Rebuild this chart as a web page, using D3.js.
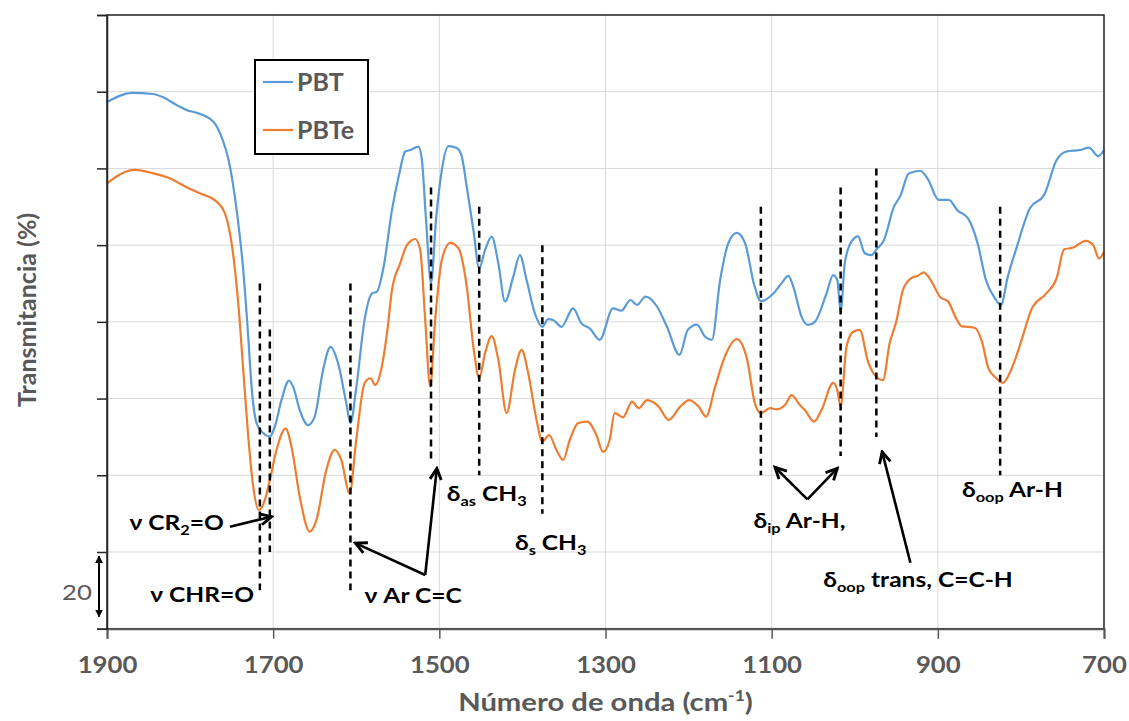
<!DOCTYPE html>
<html>
<head>
<meta charset="utf-8">
<script src="https://cdn.jsdelivr.net/npm/d3@7"></script>
<style>
  body { margin: 0; background: #fff; }
  text { font-family: Lato, "Open Sans", "DejaVu Sans", sans-serif; }
</style>
</head>
<body>
<svg id="chart" width="1129" height="721"></svg>
<script>
// --- data ---
const xTicks = [1900, 1700, 1500, 1300, 1100, 900, 700];
const yTicks = [0, 20, 40, 60, 80, 100, 120, 140, 160];

const seriesNames = ['PBT', 'PBTe'];

const wnPBT = [1900,1870,1845,1833,1816,1804,1792,1772,1764,1752,
  1744,1736,1730,1726,1720,1712,1704,1698,1690,1681,
  1676,1668,1658,1650,1640,1631,1622,1612,1607,1600,
  1590,1581,1575,1567,1557,1549,1541,1535,1525,1521,
  1516,1510,1504,1497,1489,1479,1473,1467,1459,1452,
  1445,1437,1429,1421,1411,1403,1395,1385,1376,1369,
  1363,1353,1339,1329,1319,1307,1291,1281,1270,1262,
  1252,1238,1226,1211,1201,1190,1180,1172,1162,1152,
  1142,1132,1121,1113,1098,1088,1080,1074,1064,1056,
  1048,1034,1026,1021,1017,1012,1004,996,988,980,
  973,965,953,945,935,921,912,899,887,876,
  864,852,842,832,824,816,805,789,772,757,
  745,729,718,707,700];
const tPBT = [137.3,139.7,139.4,138.6,136.5,135.2,134.5,132.2,129.2,120.5,
  109.2,93.5,76.1,63.1,53.6,51.0,50.1,52.7,59.6,64.7,
  63.1,57.0,53.1,55.3,67.4,73.5,69.3,58.8,53.6,62.8,
  80.5,87.4,87.9,94.4,109.2,117.8,124.4,124.8,125.7,122.2,
  106.6,90.1,106.6,119.6,125.8,125.3,123.1,115.2,103.9,94.0,
  98.7,102.2,95.3,85.3,91.8,97.4,90.9,82.2,78.7,80.7,
  80.5,78.7,83.5,79.6,78.3,75.3,83.5,82.9,85.7,84.4,
  86.6,84.0,78.7,71.4,77.9,79.3,76.1,75.3,90.9,100.6,
  103.2,100.5,89.6,85.4,87.4,90.1,92.0,89.2,81.3,79.2,
  80.0,87.4,92.2,90.9,82.6,95.3,100.9,102.3,97.9,97.4,
  99.1,101.2,109.9,112.9,118.7,119.4,117.2,111.8,111.8,109.0,
  107.1,100.4,90.8,86.4,84.4,91.6,99.5,109.7,113.1,122.2,
  124.4,124.8,125.4,123.2,124.8];

const wnPBTe = [1900,1884,1866,1844,1824,1804,1788,1768,1758,1750,
  1742,1736,1730,1724,1717,1710,1704,1696,1685,1678,
  1668,1656,1648,1636,1626,1618,1608,1600,1590,1583,
  1577,1571,1563,1557,1547,1539,1529,1523,1517,1511,
  1505,1497,1487,1477,1467,1459,1452,1445,1437,1429,
  1419,1409,1401,1393,1383,1376,1368,1359,1351,1343,
  1333,1322,1311,1303,1295,1289,1279,1268,1260,1250,
  1236,1224,1210,1199,1188,1179,1168,1157,1142,1130,
  1120,1113,1102,1094,1084,1076,1066,1060,1049,1040,
  1026,1021,1017,1010,1002,994,984,976,966,958,
  950,942,932,924,917,908,897,888,877,871,
  864,855,847,839,831,822,813,805,798,787,
  770,757,748,738,722,713,706,700];
const tPBTe = [116.1,118.5,119.6,118.7,117.4,115.1,113.5,111.3,108.3,100.5,
  84.8,67.4,50.1,37.0,30.9,33.6,38.8,46.6,52.2,47.5,
  34.4,25.3,28.3,41.4,46.6,44.0,35.3,49.2,64.0,65.3,
  63.5,66.6,77.0,88.3,95.3,100.0,101.6,98.7,80.5,63.1,
  80.5,96.1,100.6,99.2,89.2,73.5,65.3,71.8,76.3,70.1,
  56.2,67.4,72.7,66.6,54.4,48.8,50.5,46.6,44.0,49.2,
  53.6,54.0,50.5,46.1,49.2,56.2,55.1,59.2,57.5,59.6,
  57.9,54.4,57.9,59.6,57.9,55.3,63.1,70.6,75.5,70.6,
  58.6,56.2,57.5,57.2,58.3,60.9,58.3,57.0,54.0,57.0,
  64.1,62.2,57.9,73.4,77.4,77.9,69.6,66.1,64.8,74.4,
  80.1,88.3,91.4,92.0,92.9,90.7,86.4,85.4,80.5,78.8,
  78.7,78.4,74.9,67.8,65.6,64.1,66.9,71.4,76.1,83.4,
  87.3,91.4,98.9,99.3,101.1,100.0,96.5,98.2];

// dashed band markers: wavenumber, top and bottom (in %T units)
const dashWn     = [1716, 1704, 1607, 1510, 1452, 1376, 1113, 1017, 974, 825];
const dashTop    = [90, 78, 90, 115, 110, 100, 110, 115, 120, 110];
const dashBottom = [10, 20, 10, 44, 40, 30, 40, 45, 50, 40];

// annotation labels: [wn, %T baseline, parts] ; parts with s:true are subscripts
const labels = [
  [1873, 25.7, [{t: 'ν CR'}, {t: '2', s: true}, {t: '=O'}]],
  [1848, 7.0,  [{t: 'ν CHR=O'}]],
  [1590, 6.6,  [{t: 'ν Ar C=C'}]],
  [1491, 33.4, [{t: 'δ'}, {t: 'as', s: true}, {t: ' CH'}, {t: '3', s: true}]],
  [1409, 20.5, [{t: 'δ'}, {t: 's', s: true}, {t: ' CH'}, {t: '3', s: true}]],
  [1122, 26.3, [{t: 'δ'}, {t: 'ip', s: true}, {t: ' Ar-H,'}]],
  [871, 34.4,  [{t: 'δ'}, {t: 'oop', s: true}, {t: ' Ar-H'}]],
  [1038, 10.9, [{t: 'δ'}, {t: 'oop', s: true}, {t: ' trans, C=C-H'}]],
];

// arrows: [wn1, T1, wn2, T2] (head at point 2)
const arrows = [
  [1752, 26.6, 1702, 29.2],
  [1517, 14.0, 1601, 22.3],
  [1517, 14.0, 1503, 41.8],
  [1057, 33.7, 1096, 42.1],
  [1057, 33.7, 1021, 41.8],
  [933, 17.2, 967, 46.1],
];

// --- layout ---
const svg = d3.select('#chart');
const M = { left: 107, right: 1104, top: 15, bottom: 628.7 };
const COLORS = ['#5b9bd5', '#ed7d31'];
const GRAY = '#595959';
const WIDE = 'scale(1.17,1)';   // the source picture is stretched sideways

const x = d3.scaleLinear().domain([1900, 700]).range([M.left, M.right]);
const y = d3.scaleLinear().domain([0, 160]).range([M.bottom, M.top]);

// grid
svg.append('g').selectAll('line').data(xTicks).enter().append('line')
  .attr('x1', d => x(d)).attr('x2', d => x(d))
  .attr('y1', M.top).attr('y2', M.bottom)
  .attr('stroke', '#d9d9d9').attr('stroke-width', 1);
svg.append('g').selectAll('line').data(yTicks).enter().append('line')
  .attr('x1', M.left).attr('x2', M.right)
  .attr('y1', d => y(d)).attr('y2', d => y(d))
  .attr('stroke', '#d9d9d9').attr('stroke-width', 1);

// series
const line = d3.line().x(d => x(d[0])).y(d => y(d[1])).curve(d3.curveMonotoneX);
const series = [d3.zip(wnPBT, tPBT), d3.zip(wnPBTe, tPBTe)];
svg.append('g').selectAll('path').data(series).enter().append('path')
  .attr('d', line)
  .attr('fill', 'none')
  .attr('stroke', (d, i) => COLORS[i])
  .attr('stroke-width', 2.2)
  .attr('stroke-linejoin', 'round');

// dashed lines
svg.append('g').selectAll('line').data(dashWn).enter().append('line')
  .attr('x1', d => x(d)).attr('x2', d => x(d))
  .attr('y1', (d, i) => y(dashTop[i])).attr('y2', (d, i) => y(dashBottom[i]))
  .attr('stroke', '#000').attr('stroke-width', 2.5)
  .attr('stroke-dasharray', '7,5');

// arrow markers
const defs = svg.append('defs');
defs.append('marker')
  .attr('id', 'head').attr('viewBox', '0 0 10 10')
  .attr('refX', 8.5).attr('refY', 5)
  .attr('markerWidth', 16).attr('markerHeight', 16)
  .attr('markerUnits', 'userSpaceOnUse')
  .attr('orient', 'auto-start-reverse')
  .append('path').attr('d', 'M1.5,1.5 L8.5,5 L1.5,8.5')
  .attr('fill', 'none').attr('stroke', '#000').attr('stroke-width', 1.8);
defs.append('marker')
  .attr('id', 'tri').attr('viewBox', '0 0 10 10')
  .attr('refX', 9).attr('refY', 5)
  .attr('markerWidth', 8).attr('markerHeight', 8)
  .attr('markerUnits', 'userSpaceOnUse')
  .attr('orient', 'auto-start-reverse')
  .append('path').attr('d', 'M0,0 L10,5 L0,10 Z').attr('fill', '#000');

svg.append('g').selectAll('line').data(arrows).enter().append('line')
  .attr('x1', d => x(d[0])).attr('y1', d => y(d[1]))
  .attr('x2', d => x(d[2])).attr('y2', d => y(d[3]))
  .attr('stroke', '#000').attr('stroke-width', 2.6)
  .attr('marker-end', 'url(#head)');

// labels
const lab = svg.append('g').selectAll('text').data(labels).enter().append('text')
  .attr('transform', d => `translate(${x(d[0])},${y(d[1])}) ${WIDE}`)
  .attr('font-size', 21).attr('font-weight', 'bold').attr('fill', '#000');
lab.each(function (d) {
  const t = d3.select(this);
  let shifted = false;
  d[2].forEach(p => {
    const sp = t.append('tspan').text(p.t);
    if (p.s) { sp.attr('font-size', 14).attr('dy', 5); shifted = true; }
    else if (shifted) { sp.attr('dy', -5); shifted = false; }
  });
});

// frame + axes
svg.append('rect')
  .attr('x', M.left).attr('y', M.top)
  .attr('width', M.right - M.left).attr('height', M.bottom - M.top)
  .attr('fill', 'none').attr('stroke', '#262626').attr('stroke-width', 1.5);

const xAxis = svg.append('g').attr('transform', `translate(0,${M.bottom})`)
  .call(d3.axisBottom(x).tickValues(xTicks).tickSize(10).tickPadding(19).tickFormat(d3.format('d')));
xAxis.select('.domain').attr('stroke', GRAY).attr('stroke-width', 2);
xAxis.selectAll('.tick line').attr('stroke', GRAY).attr('stroke-width', 1.5);
xAxis.selectAll('text').attr('font-size', 22).attr('font-weight', 'bold')
  .attr('fill', GRAY).attr('font-family', 'Lato, "Open Sans", sans-serif')
  .attr('transform', WIDE);

const yAxis = svg.append('g').attr('transform', `translate(${M.left},0)`)
  .call(d3.axisLeft(y).tickValues(yTicks).tickSize(10).tickFormat(''));
yAxis.select('.domain').attr('stroke', '#262626').attr('stroke-width', 1.5);
yAxis.selectAll('.tick line').attr('stroke', '#262626').attr('stroke-width', 1.5);

// scale bar "20"
svg.append('line')
  .attr('x1', M.left - 8).attr('x2', M.left - 8)
  .attr('y1', y(yTicks[1]) + 4).attr('y2', y(yTicks[0]) - 12)
  .attr('stroke', '#000').attr('stroke-width', 2)
  .attr('marker-start', 'url(#tri)').attr('marker-end', 'url(#tri)');
svg.append('text')
  .attr('transform', `translate(${M.left - 30},${(y(yTicks[0]) + y(yTicks[1])) / 2 + 4}) ${WIDE}`)
  .attr('text-anchor', 'middle').attr('dominant-baseline', 'middle')
  .attr('font-size', 22).attr('fill', GRAY).text('20');

// axis titles
svg.append('text')
  .attr('transform', `translate(${(M.left + M.right) / 2},711) ${WIDE}`)
  .attr('text-anchor', 'middle').attr('font-size', 25).attr('font-weight', 'bold').attr('fill', GRAY)
  .call(t => {
    t.append('tspan').text('Número de onda (cm');
    t.append('tspan').text('-1').attr('font-size', 15).attr('dy', -10);
    t.append('tspan').text(')').attr('dy', 10);
  });
svg.append('text')
  .attr('transform', `translate(36,${(M.top + M.bottom) / 2 - 12}) rotate(-90)`)
  .attr('text-anchor', 'middle').attr('font-size', 25).attr('font-weight', 'bold').attr('fill', GRAY)
  .text('Transmitancia (%)');

// legend
const legend = svg.append('g').attr('transform', 'translate(255,60)');
legend.append('rect').attr('width', 113).attr('height', 94)
  .attr('fill', '#fff').attr('stroke', '#000').attr('stroke-width', 2);
const li = legend.selectAll('g').data(seriesNames).enter().append('g')
  .attr('transform', (d, i) => `translate(0,${22 + i * 48})`);
li.append('line').attr('x1', 8).attr('x2', 38)
  .attr('stroke', (d, i) => COLORS[i]).attr('stroke-width', 2.2);
li.append('text').attr('x', 42).attr('y', 9)
  .attr('font-size', 25).attr('font-weight', 'bold').attr('fill', GRAY).text(d => d);
</script>
</body>
</html>
